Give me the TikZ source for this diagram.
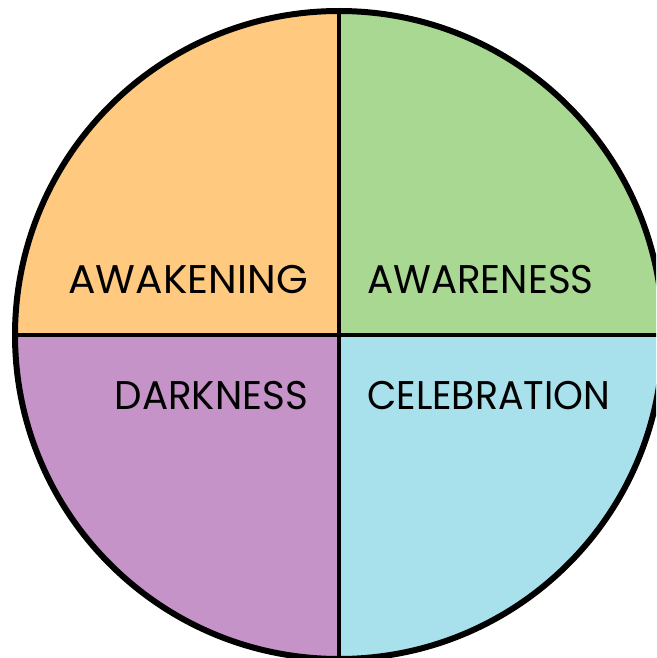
\documentclass[tikz,border=0pt]{standalone}
\usepackage{fontspec}
\setmainfont{Poppins}
\usetikzlibrary{calc}
\definecolor{qorange}{RGB}{255,201,128}
\definecolor{qgreen}{RGB}{168,216,146}
\definecolor{qpurple}{RGB}{197,147,199}
\definecolor{qblue}{RGB}{168,224,236}
\tikzset{
  lbl/.style={inner sep=0pt, font=\fontsize{40}{40}\selectfont, text=black},
}
\begin{document}
\begin{tikzpicture}[x=1pt,y=-1pt]
\useasboundingbox (0,0) rectangle (656,658);
\clip (0,0) rectangle (656,658);
\coordinate (c) at (339,335);
\def\R{324}
\fill[qorange] (c) -- ++(180:\R) arc[start angle=180,end angle=270,radius=\R] -- cycle;
\fill[qgreen] (c) -- ++(270:\R) arc[start angle=270,end angle=360,radius=\R] -- cycle;
\fill[qblue] (c) -- ++(0:\R) arc[start angle=0,end angle=90,radius=\R] -- cycle;
\fill[qpurple] (c) -- ++(90:\R) arc[start angle=90,end angle=180,radius=\R] -- cycle;
\draw[line width=4pt] ($(c)+(-\R,0)$) -- ($(c)+(\R,0)$);
\draw[line width=4pt] ($(c)+(0,-\R)$) -- ($(c)+(0,\R)$);
\draw[line width=6pt] (c) circle[radius=\R];
\node[lbl, anchor=base east] (awk) at (308,293) {\scalebox{1.02}[1]{AWAKENING}};
\node[lbl, anchor=base west] (awr) at (367,293) {\scalebox{0.97}[1]{AWARENESS}};
\node[lbl, anchor=base east] (dark) at (308,409) {\scalebox{0.97}[1]{DARKNESS}};
\node[lbl, anchor=base west] (cel) at (367,409) {\scalebox{0.95}[1]{CELEBRATION}};
\end{tikzpicture}
\end{document}
